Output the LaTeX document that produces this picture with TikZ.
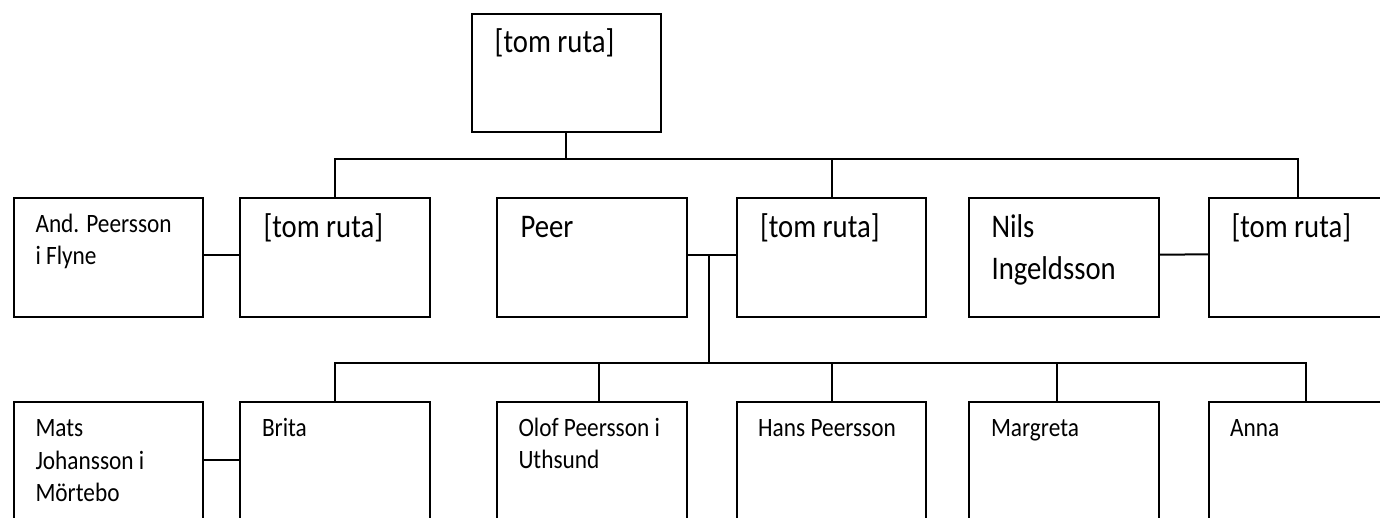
\documentclass[tikz,border=0pt]{standalone}
\usepackage{fontspec}
\setmainfont{Carlito}
\newfontfamily\smallf{Carlito}[FakeStretch=0.88]
\newfontfamily\bigf{Carlito}[FakeStretch=0.87]
\usetikzlibrary{calc}
\begin{document}
\begin{tikzpicture}[x=1pt,y=-1pt, line width=2pt,
  box/.style={draw, minimum width=190pt, minimum height=118.4pt, inner sep=0pt, outer sep=0pt},
  sm/.style={anchor=base west, inner sep=0pt, align=left, font=\smallf\fontsize{26.5}{32.3}\selectfont},
  bg/.style={anchor=base west, inner sep=0pt, align=left, font=\bigf\fontsize{33}{42}\selectfont}]
\clip (0,0) rectangle (1380,517);
\fill[white] (0,0) rectangle (1380,517);
% boxes
\node[box, minimum width=189pt, minimum height=118.3pt] (T) at (566.2,73.2) {};
\node[box, minimum width=189pt] (A) at (108.5,257.5) {};
\node[box] (B) at (335,257.5) {};
\node[box] (C) at (592,257.5) {};
\node[box, minimum width=189pt] (D) at (831.5,257.5) {};
\node[box] (E) at (1064,257.5) {};
\node[box, minimum width=178pt] (F) at (1298,257.5) {};
\node[box, minimum width=189pt] (M) at (108.5,461.5) {};
\node[box] (Br) at (335,461.5) {};
\node[box] (O) at (592,461.5) {};
\node[box, minimum width=189pt] (H) at (831.5,461.5) {};
\node[box] (Mg) at (1064,461.5) {};
\node[box, minimum width=194pt] (An) at (1306,461.5) {};
% texts (base anchor = baseline of last line)
\node[bg] at ($(T.north west)+(22,38)$) {[tom ruta]};
\node[sm] at ($(A.north west)+(20.5,34.3+32.3)$) {And. Peersson\\i Flyne};
\node[bg] at ($(B.north west)+(22.5,38.8)$) {[tom ruta]};
\node[bg] at ($(C.north west)+(22.5,38.8)$) {Peer};
\node[bg] at ($(D.north west)+(22,38.8)$) {[tom ruta]};
\node[bg] at ($(E.north west)+(21.5,38.8+42)$) {Nils\\Ingeldsson};
\node[bg] at ($(F.north west)+(21.5,38.8)$) {[tom ruta]};
\node[sm] at ($(M.north west)+(20.5,34.6+64.6)$) {Mats\\Johansson i\\Mörtebo};
\node[sm] at ($(Br.north west)+(21,34.6)$) {Brita};
\node[sm] at ($(O.north west)+(20.5,33.8+32.3)$) {Olof Peersson i\\Uthsund};
\node[sm] at ($(H.north west)+(20.2,33.8)$) {Hans Peersson};
\node[sm] at ($(Mg.north west)+(21,33.8)$) {Margreta};
\node[sm] at ($(An.north west)+(20,33.8)$) {Anna};
% connectors
\coordinate (bar1) at (0,159);
\coordinate (bar2) at (0,362.7);
\draw (T.south) -- (T.south |- bar1);
\draw (B.north) -- (B.north |- bar1) -- (F.north |- bar1) -- (F.north);
\draw (D.north) -- (D.north |- bar1);
\draw ([yshift=2.5pt]A.east) -- ([yshift=2.5pt]B.west);
\draw ([yshift=2.8pt]C.east) -- ([yshift=2.8pt]D.west);
\draw ([yshift=2.8pt]E.east) -- ([yshift=3.2pt]F.west);
\coordinate (cd) at (709.3,254.7);
\draw (cd) -- (cd |- bar2);
\draw (Br.north) -- (Br.north |- bar2) -- (An.north |- bar2) -- (An.north);
\coordinate (oj) at (598.7,362.7);
\draw (oj) -- (oj |- O.north);
\draw (H.north) -- (H.north |- bar2);
\coordinate (mj) at (1057.3,362.7);
\draw (mj) -- (mj |- Mg.north);
\coordinate (mb) at (0,460);
\draw (M.east |- mb) -- (Br.west |- mb);
\end{tikzpicture}
\end{document}
